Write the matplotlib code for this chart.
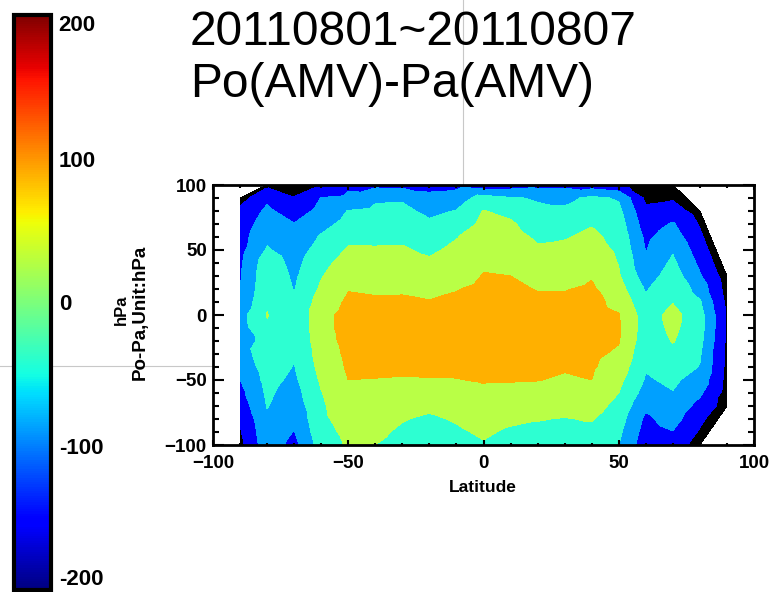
import numpy as np
import matplotlib
matplotlib.use("Agg")
import matplotlib.pyplot as plt
import matplotlib.tri as mtri
from matplotlib.cm import ScalarMappable
from matplotlib.colors import Normalize
from matplotlib.lines import Line2D
from matplotlib.ticker import MultipleLocator

nan = np.nan

# latitude bins (deg) and Po-Pa bins (hPa)
lats = list(range(-90, 91, 10))
dp_bins = list(range(100, -101, -10))

# one row per latitude, values for dp_bins from +100 down to -100 (NaN = no data)
field_by_lat = [
    [nan, -170, -140, -128, -120, -115, -108, -104, -101, -90, -68, -72, -102, -75, -85, -100, -115, -130, -145, -155, -165],
    [-160, -110, -90, -75, -60, -45, -22, -15, -10, -5, 2, -6, -12, -20, -28, -35, -42, -48, -58, -65, -70],
    [-165, -148, -125, -98, -85, -75, -65, -58, -52, -47, -45, -45, -46, -48, -52, -60, -70, -80, -92, -102, -115],
    [-150, -98, -85, -65, -45, -30, -15, -3, 8, 22, 35, 35, 30, 22, 15, 7, -2, -7, -10, -18, -28],
    [-110, -90, -48, -35, -10, 5, 20, 35, 48, 58, 65, 66, 64, 60, 56, 50, 40, 30, 20, 12, 6],
    [-112, -58, -40, -28, -12, 5, 18, 30, 45, 55, 68, 70, 68, 62, 56, 49, 40, 30, 20, 10, 0],
    [-115, -55, -40, -28, -8, 5, 18, 30, 45, 56, 68, 70, 66, 60, 55, 48, 35, 20, 3, -8, -15],
    [-118, -85, -60, -42, -28, -8, 8, 22, 38, 52, 62, 66, 64, 60, 55, 49, 30, 10, -8, -18, -25],
    [-115, -75, -48, -25, -2, 10, 20, 32, 48, 58, 65, 68, 66, 62, 56, 49, 40, 22, 5, -8, -18],
    [-130, -30, 2, 10, 20, 30, 45, 52, 60, 66, 70, 72, 70, 66, 60, 52, 45, 35, 22, 8, -5],
    [-125, -45, -15, 8, 20, 30, 42, 50, 58, 63, 66, 68, 66, 63, 58, 52, 40, 28, 10, -8, -18],
    [-115, -55, -40, -28, -8, 8, 20, 32, 48, 58, 64, 66, 64, 60, 55, 51, 35, 20, 2, -10, -20],
    [-112, -62, -42, -25, -3, 10, 22, 34, 48, 58, 64, 66, 63, 58, 53, 46, 32, 15, -2, -12, -22],
    [-125, -40, -25, -3, 10, 22, 35, 47, 56, 62, 65, 66, 64, 60, 55, 50, 38, 20, 3, -10, -20],
    [-140, -55, -38, -25, -15, -8, -2, 5, 20, 38, 52, 56, 53, 42, 28, 12, 0, -15, -28, -40, -50],
    [-170, -160, -140, -125, -110, -102, -90, -75, -55, -40, -25, -25, -30, -38, -46, -55, -70, -90, -110, -120, -130],
    [-165, -155, -130, -95, -75, -55, -40, -25, -10, -2, 15, 10, 3, -15, -30, -42, -52, -65, -80, -102, -125],
    [nan, nan, -170, -155, -140, -125, -110, -95, -70, -45, -30, -30, -36, -45, -52, -70, -92, -115, -140, -155, -170],
    [nan, nan, nan, nan, nan, nan, nan, -175, -168, -160, -155, -155, -158, -160, -162, -165, -168, -172, nan, nan, nan],
]

levels = [-250, -150, -100, -50, 0, 50, 100]
fill_colors = ["#000000", "#0000ff", "#00a0ff", "#2dffd2", "#b9ff46", "#ffb000"]
cbar_ticks = [-200, -100, 0, 100, 200]

plt.rcParams["font.family"] = ["Liberation Sans", "DejaVu Sans"]

W, H = 778, 592
fig = plt.figure(figsize=(W / 100, H / 100), dpi=100)

# thin grey cross lines sitting behind everything
fig.add_artist(Line2D([0, 213 / W], [1 - 366 / H] * 2, color="#c8c8c8", lw=0.8, zorder=-5))
fig.add_artist(Line2D([463 / W] * 2, [1 - 185 / H, 1], color="#c8c8c8", lw=0.8, zorder=-5))

ax = fig.add_axes([213 / W, 1 - 445 / H, (754 - 213) / W, (445 - 185) / H])

grid = np.array(field_by_lat, dtype=float).T
X, Y = np.meshgrid(lats, dp_bins)
ok = ~np.isnan(grid)
tri = mtri.Triangulation(X[ok], Y[ok])
ax.tricontourf(tri, grid[ok], levels=levels, colors=fill_colors)

ax.set_xlim(-100, 100)
ax.set_ylim(-100, 100)
ax.xaxis.set_major_locator(MultipleLocator(50))
ax.xaxis.set_minor_locator(MultipleLocator(10))
ax.yaxis.set_major_locator(MultipleLocator(50))
ax.yaxis.set_minor_locator(MultipleLocator(10))
ax.tick_params(which="both", direction="in", top=True, right=True, width=1.5, color="black")
ax.tick_params(axis="x", which="major", length=3.6, pad=7, labelsize=13.5)
ax.tick_params(axis="x", which="minor", length=1.8)
ax.tick_params(axis="y", which="major", length=7.9, pad=4.5, labelsize=13.5)
ax.tick_params(axis="y", which="minor", length=4)
for lab in ax.get_xticklabels() + ax.get_yticklabels():
    lab.set_fontweight("bold")
for sp in ax.spines.values():
    sp.set_linewidth(2)

fig.text(483 / W, 1 - 487 / H, "Latitude", ha="center", va="center",
         fontsize=12.5, fontweight="bold")
fig.text(121 / W, 1 - 310 / H, "hPa", rotation=90, ha="center", va="center",
         fontsize=12, fontweight="bold")
fig.text(140 / W, 1 - 312 / H, "Po-Pa,Unit:hPa", rotation=90, ha="center", va="center",
         fontsize=13.5, fontweight="bold")

fig.text(190 / W, 1 - 45 / H, "20110801~20110807", fontsize=34.5, va="baseline", ha="left")
fig.text(190 / W, 1 - 97 / H, "Po(AMV)-Pa(AMV)", fontsize=34.5, va="baseline", ha="left")

# continuous jet colour bar on the left
cax = fig.add_axes([14 / W, 1 - 590 / H, (51 - 14) / W, (590 - 15) / H])
sm = ScalarMappable(norm=Normalize(-200, 200), cmap="jet")
cb = fig.colorbar(sm, cax=cax, ticks=cbar_ticks)
cb.outline.set_linewidth(3)
cax.tick_params(length=0, pad=5.5, labelsize=16)
cax.set_yticklabels([str(t) for t in cbar_ticks])
labs = cax.get_yticklabels()
for lab in labs:
    lab.set_fontweight("bold")
labs[0].set_va("bottom")
labs[-1].set_va("top")

fig.savefig("out.png", dpi=100)
